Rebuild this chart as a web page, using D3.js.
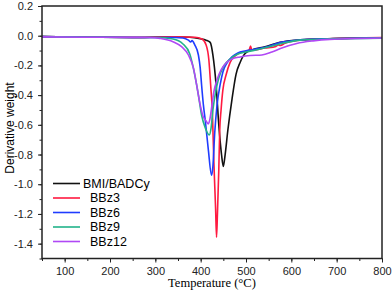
<!DOCTYPE html>
<html>
<head>
<meta charset="utf-8">
<script src="https://cdnjs.cloudflare.com/ajax/libs/d3/7.8.5/d3.min.js"></script>
<style>
  body { margin: 0; background: #fff; }
  svg { display: block; font-family: "Liberation Sans", Arial, sans-serif; }
  .axis path, .axis line { stroke: #222; }
  .axis text { fill: #222; font-size: 11px; }
</style>
</head>
<body>
<svg width="392" height="293"></svg>
<script>
// series names and colours (legend order)
var names = ["BMI/BADCy", "BBz3", "BBz6", "BBz9", "BBz12"];
var colors = ["#111111", "#ff1a40", "#1f3cff", "#22b38a", "#b048f5"];

// [temperature, derivative weight]
var bmi = [[50,-0.006],[150,-0.01],[250,-0.012],[330,-0.008],[376,-0.01],[399,-0.02],[412,-0.03],[421,-0.045],[427,-0.13],
  [434,-0.33],[440,-0.6],[446,-0.8],[450,-0.88],[454,-0.8],[460,-0.635],[469,-0.43],[478,-0.26],[487,-0.18],
  [498,-0.12],[513,-0.096],[542,-0.075],[575,-0.045],[620,-0.028],[680,-0.02],[740,-0.016],[800,-0.014]];
var bbz3 = [[50,-0.006],[150,-0.01],[250,-0.011],[340,-0.008],[387,-0.01],[403,-0.022],[412,-0.062],[418,-0.16],
  [422,-0.33],[426,-0.53],[429,-0.84],[433,-1.17],[435,-1.357],[437,-1.2],[440,-0.9],[442,-0.64],[445,-0.5],
  [449,-0.365],[456,-0.265],[465,-0.18],[476,-0.136],[491,-0.11],[507,-0.096],[510,-0.07],[513,-0.097],
  [542,-0.083],[566,-0.072],[571,-0.062],[576,-0.066],[586,-0.05],[620,-0.03],[685,-0.02],[800,-0.013]];
var bbz6 = [[50,-0.006],[150,-0.01],[250,-0.012],[343,-0.012],[361,-0.015],[373,-0.03],[378,-0.042],[381,-0.033],
  [387,-0.062],[395,-0.13],[399,-0.217],[402,-0.33],[406,-0.466],[410,-0.567],[417,-0.77],[424,-0.94],
  [427,-0.88],[431,-0.655],[436,-0.47],[443,-0.33],[449,-0.244],[458,-0.184],[469,-0.143],[482,-0.116],
  [498,-0.103],[515,-0.094],[542,-0.078],[575,-0.046],[620,-0.028],[685,-0.02],[800,-0.014]];
var bbz9 = [[50,-0.006],[150,-0.01],[250,-0.012],[300,-0.012],[339,-0.022],[361,-0.056],[376,-0.123],[387,-0.264],
  [395,-0.4],[402,-0.534],[410,-0.62],[419,-0.668],[423,-0.62],[427,-0.5],[433,-0.379],[440,-0.285],
  [451,-0.204],[465,-0.157],[482,-0.123],[500,-0.11],[531,-0.09],[560,-0.068],[590,-0.045],[620,-0.03],
  [685,-0.021],[800,-0.016]];
var bbz12 = [[50,-0.008],[150,-0.01],[250,-0.011],[288,-0.012],[310,-0.018],[339,-0.04],[358,-0.074],[373,-0.13],
  [384,-0.217],[391,-0.33],[399,-0.466],[405,-0.54],[412,-0.574],[417,-0.594],[420,-0.567],[425,-0.466],
  [429,-0.379],[436,-0.298],[445,-0.23],[456,-0.184],[469,-0.157],[487,-0.143],[509,-0.133],[535,-0.13],
  [557,-0.11],[579,-0.082],[612,-0.052],[648,-0.035],[685,-0.025],[800,-0.015]];
var series = [bmi, bbz3, bbz6, bbz9, bbz12];

var xTicks = [100, 200, 300, 400, 500, 600, 700, 800];
var yTicks = [0.2, 0.0, -0.2, -0.4, -0.6, -0.8, -1.0, -1.2, -1.4];

var svg = d3.select("svg");
var plotL = 42, plotR = 382, plotT = 6, plotB = 258.5;

var x = d3.scaleLinear().domain([50, 800]).range([plotL, plotR]);
var y = d3.scaleLinear().domain([-1.5, 0.2]).range([plotB, plotT]);

svg.append("rect").attr("width", 392).attr("height", 293).attr("fill", "#fff");

// minor ticks
svg.append("g").attr("class", "axis")
    .attr("transform", "translate(0," + plotB + ")")
    .call(d3.axisBottom(x).tickValues(d3.range(50, 801, 50)).tickSize(2.5).tickFormat(""))
    .select(".domain").remove();
svg.append("g").attr("class", "axis")
    .attr("transform", "translate(" + plotL + ",0)")
    .call(d3.axisLeft(y).tickValues(d3.range(-15, 3).map(function(d) { return d / 10; })).tickSize(2.5).tickFormat(""))
    .select(".domain").remove();

// major ticks + labels
var xAxis = svg.append("g").attr("class", "axis")
    .attr("transform", "translate(0," + plotB + ")")
    .call(d3.axisBottom(x).tickValues(xTicks).tickSize(4).tickPadding(5).tickSizeOuter(0));
xAxis.select(".domain").remove();

var yAxis = svg.append("g").attr("class", "axis")
    .attr("transform", "translate(" + plotL + ",0)")
    .call(d3.axisLeft(y).tickValues(yTicks).tickSize(4).tickPadding(5)
      .tickFormat(function(d) { return d3.format(".1f")(d).replace("−", "-"); }));
yAxis.select(".domain").remove();

// curves
var line = d3.line()
    .x(function(d) { return x(d[0]); })
    .y(function(d) { return y(d[1]); })
    .curve(d3.curveMonotoneX);

svg.append("g").selectAll("path")
    .data(series)
    .enter().append("path")
    .attr("d", line)
    .attr("fill", "none")
    .attr("stroke", function(d, i) { return colors[i]; })
    .attr("stroke-width", 1.6)
    .attr("stroke-linejoin", "round");

// frame
svg.append("rect")
    .attr("x", plotL).attr("y", plotT)
    .attr("width", plotR - plotL).attr("height", plotB - plotT)
    .attr("fill", "none").attr("stroke", "#222").attr("stroke-width", 1.5);

// legend
var legend = svg.append("g").selectAll("g")
    .data(names)
    .enter().append("g")
    .attr("transform", function(d, i) { return "translate(53," + (183.5 + i * 14.5) + ")"; });
legend.append("line")
    .attr("x1", 0).attr("x2", 27)
    .attr("stroke", function(d, i) { return colors[i]; })
    .attr("stroke-width", 1.6);
legend.append("text")
    .attr("x", function(d, i) { return i == 0 ? 30 : 37; })
    .attr("dy", "0.35em")
    .style("font-size", "12.5px")
    .text(function(d) { return d; });

// axis titles
svg.append("text")
    .attr("x", (plotL + plotR) / 2).attr("y", 287)
    .attr("text-anchor", "middle")
    .style("font-family", "'Liberation Serif', 'Times New Roman', serif")
    .style("font-size", "12.5px")
    .text("Temperature (°C)");

svg.append("text")
    .attr("transform", "translate(14,128) rotate(-90)")
    .attr("text-anchor", "middle")
    .style("font-size", "12px")
    .text("Derivative weight");
</script>
</body>
</html>
